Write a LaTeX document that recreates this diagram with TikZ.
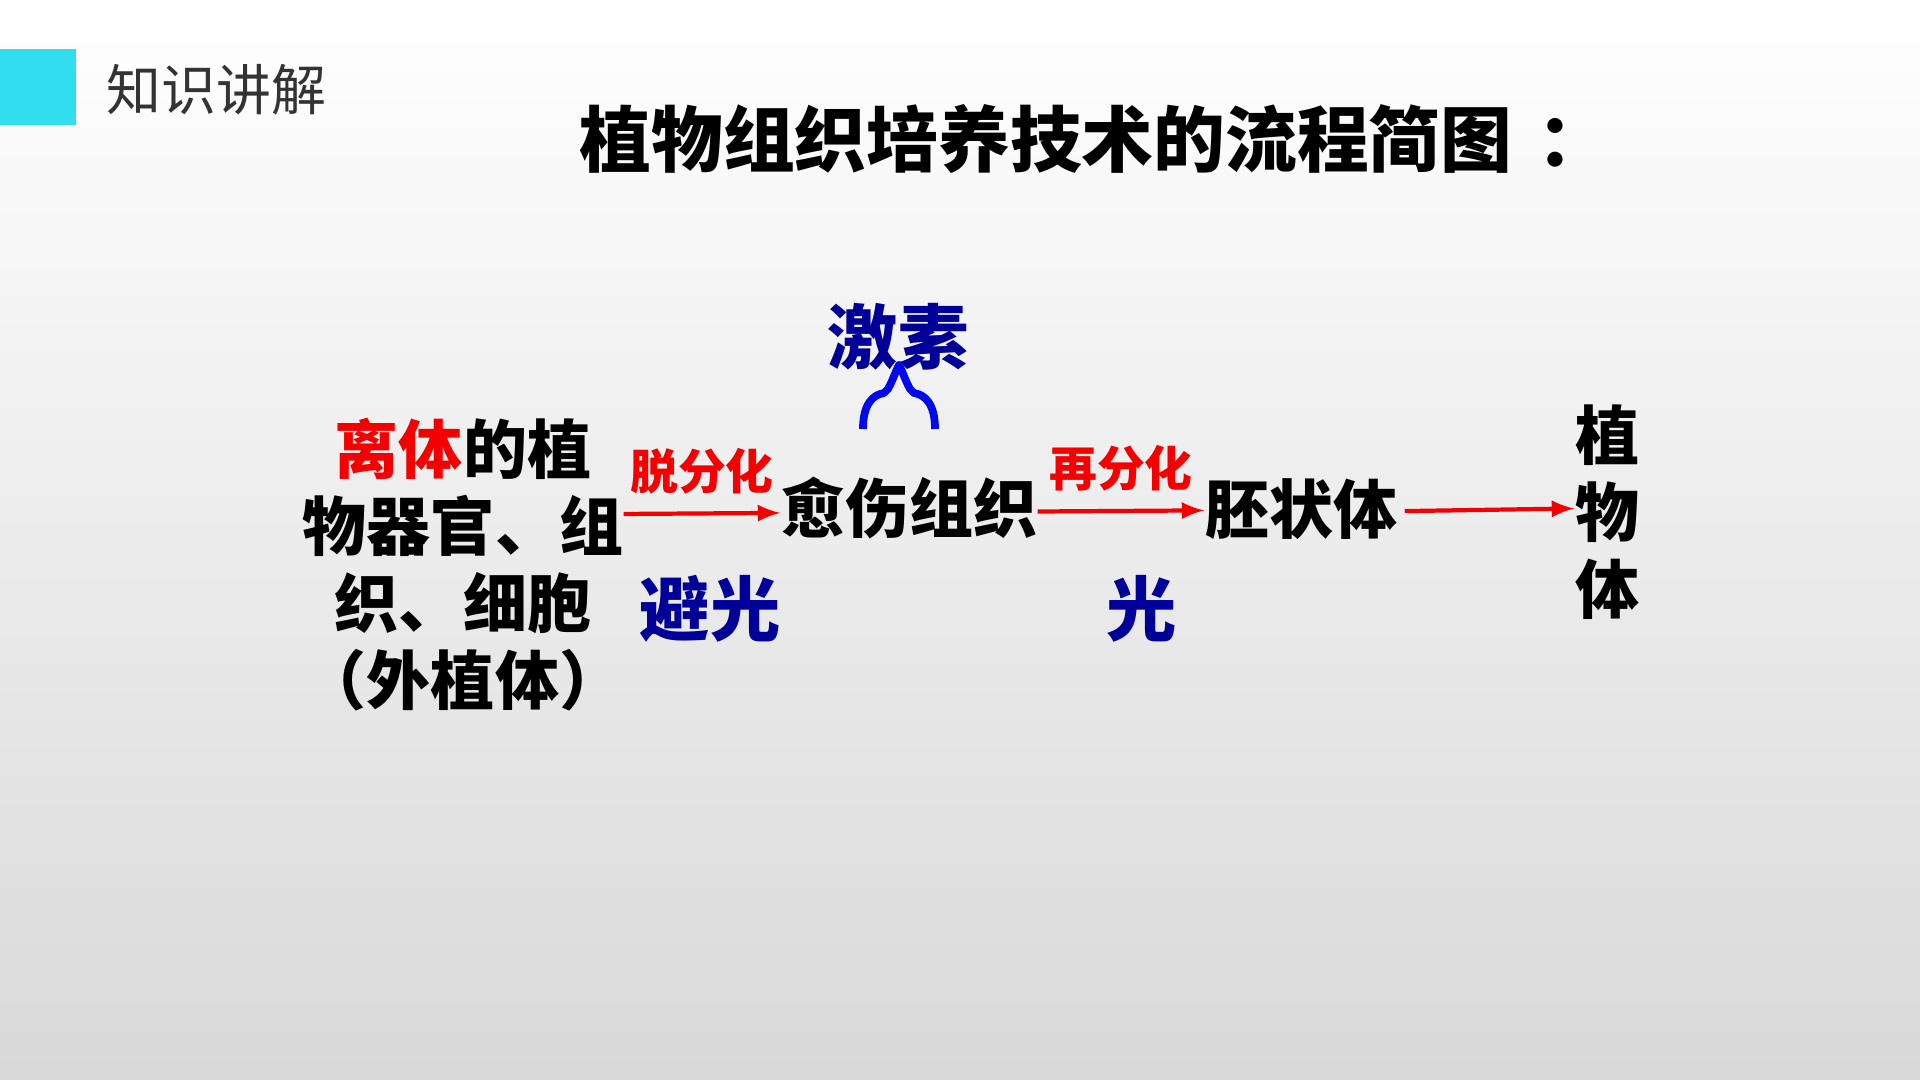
\documentclass[tikz,border=0pt]{standalone}
\usepackage{fontspec}
\newfontfamily\cjk{Noto Sans CJK SC}
\usepackage{tikz}
\usetikzlibrary{arrows}
\usepackage{xcolor}
\definecolor{tabcyan}{RGB}{51,221,240}
\definecolor{hormblue}{RGB}{0,0,153}
\definecolor{braceblue}{RGB}{0,10,235}
\definecolor{stepred}{RGB}{245,0,0}

\begin{document}
\begin{tikzpicture}[x=0.01cm,y=-0.01cm,
    stage/.style={font=\cjk\bfseries\fontsize{18.2}{21.9}\selectfont, inner sep=0pt, align=center},
    steplabel/.style={font=\cjk\bfseries\fontsize{13.6}{16}\selectfont, text=stepred, inner sep=0pt},
    cond/.style={font=\cjk\bfseries\fontsize{20}{24}\selectfont, text=hormblue, inner sep=0pt},
    flow/.style={-latex, draw=stepred, line width=1.2pt}]

      % Background of the slide
      \useasboundingbox (0,0) rectangle (1920,1080);
      \shade[top color=white, bottom color=gray!30] (0,0) rectangle (1920,1080);

      % Header tab and titles
      \fill[tabcyan] (0,49) rectangle (76,125);
      \node[font=\cjk\fontsize{15.6}{18}\selectfont, text=black!80, anchor=west, inner sep=0pt] (head) at (106,90) {知识讲解};
      \node[font=\cjk\bfseries\fontsize{20.4}{24}\selectfont, anchor=west, inner sep=0pt] (title) at (579,139) {植物组织培养技术的流程简图\hspace{0.35em}：};

      % The stages of the process
      \node[stage] (explant) at (463,565) {{\color{stepred}离体}的植\\物器官、组\\织、细胞\\（外植体）};
      \node[stage] (callus) at (909,508) {愈伤组织};
      \node[stage] (embryo) at (1301,509) {胚状体};
      \node[stage] (plant) at (1607,512) {植\\物\\体};

      % Arrows between the stages
      \draw[flow] ([yshift=-1.7pt]explant.east |- callus.west) -- node[steplabel, above=5pt] (dediff) {脱分化} ([yshift=-1.4pt]callus.west);
      \draw[flow] ([yshift=-1pt]callus.east) -- node[steplabel, above=5pt] (rediff) {再分化} ([yshift=-0.4pt]embryo.west);
      \draw[flow] ([xshift=2pt,yshift=-0.6pt]embryo.east) -- ([yshift=1pt]plant.west);

      % Conditions
      \node[cond] (dark) at (710,609) {避光};
      \node[cond] (light) at (1142,609) {光};
      \node[cond] (hormone) at (898,337) {激素};

      % Brace under the hormone label
      \coordinate (hl) at (863,429);
      \coordinate (hr) at (935,429);
      \draw[braceblue, line width=2.2pt, line join=round] (hl) .. controls (863,405) and (872,395) .. (884,393)
        -- (888,389) .. controls (893,380) and (896,370) .. (899,365)
        .. controls (902,370) and (905,380) .. (910,389) -- (914,393)
        .. controls (926,395) and (935,405) .. (hr);
\end{tikzpicture}
\end{document}
